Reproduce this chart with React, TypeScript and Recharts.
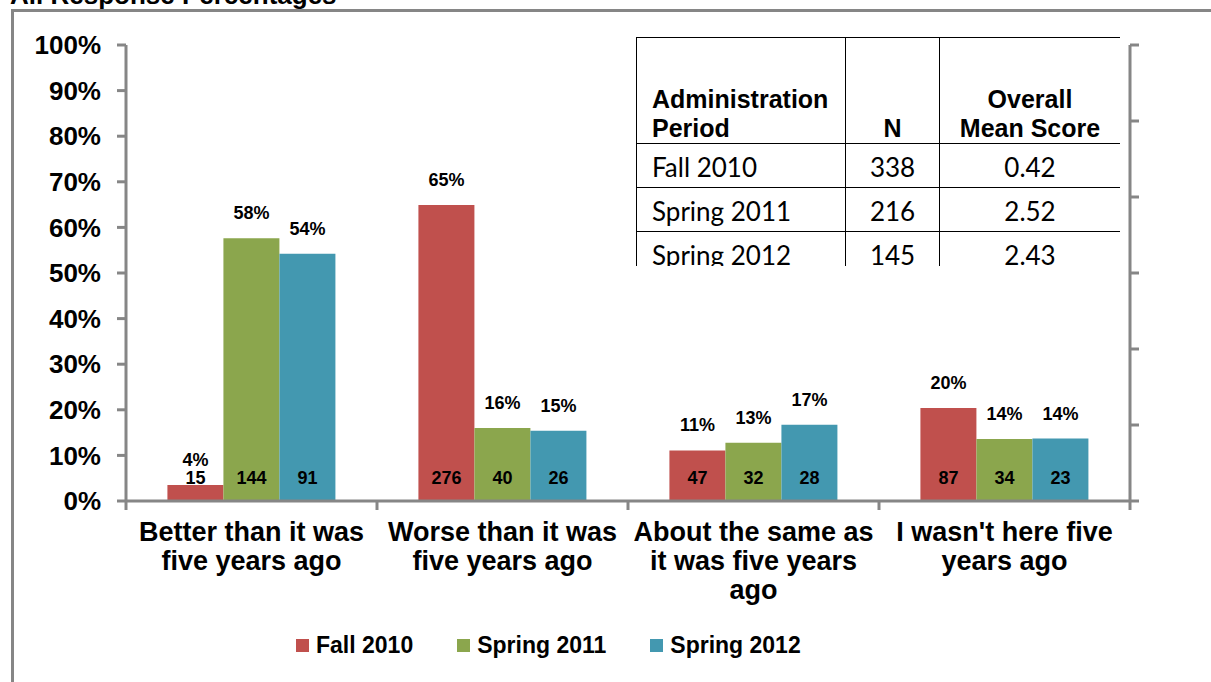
import React from 'react';
import { BarChart, Bar, XAxis, YAxis, Legend, LabelList } from 'recharts';

// Response categories (line breaks as in the original axis labels)
const categories = [
  'Better than it was\nfive years ago',
  'Worse than it was\nfive years ago',
  'About the same as\nit was five years\nago',
  "I wasn't here five\nyears ago",
];

// Percent of respondents per administration period
const fall2010Pct = [3.5, 64.9, 11.1, 20.4];
const spring2011Pct = [57.6, 16.0, 12.8, 13.6];
const spring2012Pct = [54.2, 15.4, 16.7, 13.7];

// Respondent counts shown inside the bars
const fall2010N = [15, 276, 47, 87];
const spring2011N = [144, 40, 32, 34];
const spring2012N = [91, 26, 28, 23];

const yTicks = [0, 10, 20, 30, 40, 50, 60, 70, 80, 90, 100];
const rightTicks = [0, 1, 2, 3, 4, 5, 6];

// Summary table
const periods = ['Fall 2010', 'Spring 2011', 'Spring 2012'];
const periodN = [338, 216, 145];
const meanScores = ['0.42', '2.52', '2.43'];

const data = categories.map((name, i) => ({
  name,
  fall: fall2010Pct[i],
  spring11: spring2011Pct[i],
  spring12: spring2012Pct[i],
  fallN: fall2010N[i],
  spring11N: spring2011N[i],
  spring12N: spring2012N[i],
}));

const ARIAL = '"Liberation Sans", Arial, sans-serif';
const AXIS_GRAY = '#868686';

const series = [
  { key: 'fall', nKey: 'fallN', name: 'Fall 2010', color: '#C0504D' },
  { key: 'spring11', nKey: 'spring11N', name: 'Spring 2011', color: '#8BA64D' },
  { key: 'spring12', nKey: 'spring12N', name: 'Spring 2012', color: '#4398B0' },
];

const pctLabel = (v: any) => `${Math.round(Number(v))}%`;

// tick marks only, no text
const NoLabel = () => <g />;

// category label plus Excel-style tick marks between categories
function CategoryTick({ x, y, payload, index, width, visibleTicksCount }: any) {
  const lines = String(payload.value).split('\n');
  const half = payload.offset || width / (visibleTicksCount || categories.length) / 2;
  const edges = [x - half];
  if (index === (visibleTicksCount || categories.length) - 1) edges.push(x + half);
  return (
    <g>
      {edges.map((ex, i) => (
        <line key={i} x1={ex} x2={ex} y1={y} y2={y + 9} stroke={AXIS_GRAY} strokeWidth={3} />
      ))}
      <text x={x} y={y} textAnchor="middle" fontFamily={ARIAL} fontWeight="bold" fontSize={27} fill="#000">
        {lines.map((line, i) => (
          <tspan key={i} x={x} dy={i === 0 ? 40 : 29}>
            {line}
          </tspan>
        ))}
      </text>
    </g>
  );
}

function LegendRow({ payload }: any) {
  const items = payload && payload.length ? payload : series.map((s) => ({ value: s.name, color: s.color }));
  return (
    <div style={{ display: 'flex', alignItems: 'center', height: 40, paddingLeft: 296 }}>
      {items.map((it: any) => (
        <div key={it.value} style={{ display: 'flex', alignItems: 'center', marginRight: 44 }}>
          <span style={{ width: 13, height: 13, background: it.color, marginRight: 7, display: 'inline-block' }} />
          <span style={{ fontFamily: ARIAL, fontWeight: 'bold', fontSize: 23, color: '#000' }}>{it.value}</span>
        </div>
      ))}
    </div>
  );
}

const cellBorder = '1.5px solid #000';

function SummaryTable() {
  return (
    <div
      style={{
        position: 'absolute',
        left: 636,
        top: 37,
        width: 484,
        height: 229,
        overflow: 'hidden',
        background: '#fff',
      }}
    >
      <table style={{ borderCollapse: 'collapse', width: 484, tableLayout: 'fixed' }}>
        <colgroup>
          <col style={{ width: 209 }} />
          <col style={{ width: 94 }} />
          <col style={{ width: 181 }} />
        </colgroup>
        <thead>
          <tr style={{ height: 106 }}>
            {['Administration\nPeriod', 'N', 'Overall\nMean Score'].map((h, i) => (
              <th
                key={i}
                style={{
                  border: cellBorder,
                  verticalAlign: 'bottom',
                  textAlign: i === 0 ? 'left' : 'center',
                  padding: i === 0 ? '0 0 0 15px' : 0,
                  fontFamily: ARIAL,
                  fontWeight: 'bold',
                  fontSize: 25,
                  lineHeight: '29px',
                  whiteSpace: 'pre-line',
                }}
              >
                {h}
              </th>
            ))}
          </tr>
        </thead>
        <tbody>
          {periods.map((p, i) => (
            <tr key={p} style={{ height: 44 }}>
              {[p, String(periodN[i]), meanScores[i]].map((v, j) => (
                <td
                  key={j}
                  style={{
                    border: cellBorder,
                    textAlign: j === 0 ? 'left' : 'center',
                    padding: j === 0 ? '2px 0 0 15px' : '2px 0 0 0',
                    fontFamily: 'Lato, "Open Sans", sans-serif',
                    fontSize: 26,
                    lineHeight: '30px',
                    color: '#000',
                  }}
                >
                  {v}
                </td>
              ))}
            </tr>
          ))}
        </tbody>
      </table>
    </div>
  );
}

export default function App() {
  return (
    <div
      style={{
        position: 'absolute',
        left: 0,
        top: 0,
        width: 1211,
        height: 682,
        overflow: 'hidden',
        background: '#fff',
      }}
    >
      {/* outer chart frame, clipped by the page edge */}
      <div
        style={{
          position: 'absolute',
          left: 11,
          top: 9,
          width: 1400,
          height: 900,
          border: `3px solid ${AXIS_GRAY}`,
        }}
      />
      <div
        style={{
          position: 'absolute',
          left: 10,
          top: -18,
          fontFamily: ARIAL,
          fontWeight: 'bold',
          fontSize: 26,
          lineHeight: '26px',
          whiteSpace: 'nowrap',
        }}
      >
        All Response Percentages
      </div>

      <div style={{ position: 'absolute', left: 0, top: 0 }}>
        <BarChart
          width={1211}
          height={682}
          data={data}
          margin={{ top: 45, right: 61, bottom: 17, left: 0 }}
          barCategoryGap="16.5%"
          barGap={0}
        >
          <XAxis
            dataKey="name"
            type="category"
            height={124}
            axisLine={{ stroke: AXIS_GRAY, strokeWidth: 3 }}
            tickLine={false}
            tickSize={0}
            tickMargin={0}
            interval={0}
            tick={<CategoryTick />}
          />
          <YAxis
            yAxisId="left"
            domain={[0, 100]}
            ticks={yTicks}
            tickFormatter={(v) => `${v}%`}
            width={126}
            tickSize={9}
            tickMargin={16}
            axisLine={{ stroke: AXIS_GRAY, strokeWidth: 3 }}
            tickLine={{ stroke: AXIS_GRAY, strokeWidth: 3 }}
            tick={{ fill: '#000', fontFamily: ARIAL, fontWeight: 'bold', fontSize: 26 }}
          />
          <YAxis
            yAxisId="right"
            orientation="right"
            type="number"
            domain={[0, 6]}
            allowDataOverflow
            ticks={rightTicks}
            tick={NoLabel}
            width={20}
            tickSize={9}
            axisLine={{ stroke: AXIS_GRAY, strokeWidth: 3 }}
            tickLine={{ stroke: AXIS_GRAY, strokeWidth: 3 }}
          />
          <Legend verticalAlign="bottom" height={40} wrapperStyle={{ left: 0, width: 1211 }} content={<LegendRow />} />
          {series.map((s) => (
            <Bar key={s.key} dataKey={s.key} name={s.name} fill={s.color} yAxisId="left" isAnimationActive={false}>
              <LabelList
                dataKey={s.key}
                position="top"
                offset={19}
                formatter={pctLabel}
                style={{ fill: '#000', fontFamily: ARIAL, fontWeight: 'bold', fontSize: 18 }}
              />
              <LabelList
                dataKey={s.nKey}
                position="insideBottom"
                offset={17}
                style={{ fill: '#000', fontFamily: ARIAL, fontWeight: 'bold', fontSize: 18 }}
              />
            </Bar>
          ))}
        </BarChart>
      </div>

      <SummaryTable />
    </div>
  );
}
